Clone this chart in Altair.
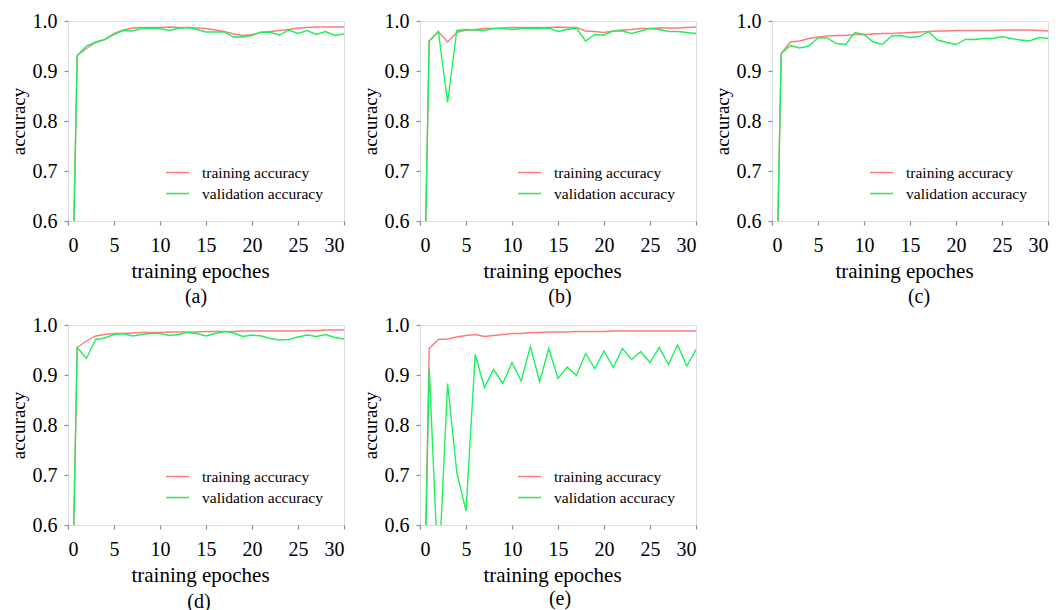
import altair as alt
import pandas as pd

epochs = list(range(31))
series_names = ["training accuracy", "validation accuracy"]
panel_labels = ["(a)", "(b)", "(c)", "(d)", "(e)"]
y_ticks = [0.6, 0.7, 0.8, 0.9, 1.0]
x_ticks = [0, 5, 10, 15, 20, 25, 30]

train_a = [0.0, 0.931, 0.945, 0.957, 0.963, 0.975, 0.982, 0.986, 0.987, 0.987, 0.987,
           0.988, 0.987, 0.987, 0.986, 0.985, 0.982, 0.979, 0.974, 0.971, 0.973,
           0.977, 0.979, 0.981, 0.983, 0.986, 0.987, 0.988, 0.988, 0.988, 0.988]
val_a = [0.0, 0.931, 0.950, 0.958, 0.963, 0.973, 0.981, 0.980, 0.985, 0.985, 0.985,
         0.981, 0.985, 0.987, 0.983, 0.978, 0.978, 0.978, 0.968, 0.968, 0.971,
         0.978, 0.977, 0.972, 0.982, 0.975, 0.981, 0.973, 0.979, 0.971, 0.974]

train_b = [0.0, 0.960, 0.979, 0.958, 0.977, 0.982, 0.983, 0.985, 0.985, 0.986, 0.987,
           0.987, 0.987, 0.987, 0.987, 0.988, 0.987, 0.987, 0.980, 0.979, 0.977,
           0.980, 0.982, 0.983, 0.985, 0.985, 0.986, 0.986, 0.986, 0.987, 0.988]
val_b = [0.0, 0.960, 0.979, 0.837, 0.981, 0.983, 0.982, 0.981, 0.985, 0.985, 0.983,
         0.985, 0.985, 0.985, 0.986, 0.979, 0.983, 0.986, 0.960, 0.973, 0.972,
         0.980, 0.980, 0.975, 0.980, 0.985, 0.983, 0.979, 0.979, 0.977, 0.975]

train_c = [0.0, 0.935, 0.958, 0.960, 0.965, 0.968, 0.970, 0.971, 0.971, 0.973, 0.973,
           0.974, 0.975, 0.975, 0.976, 0.977, 0.978, 0.979, 0.980, 0.980, 0.981,
           0.981, 0.981, 0.981, 0.981, 0.982, 0.982, 0.982, 0.982, 0.981, 0.980]
val_c = [0.0, 0.935, 0.951, 0.946, 0.950, 0.966, 0.966, 0.955, 0.953, 0.977, 0.973,
         0.958, 0.953, 0.970, 0.971, 0.967, 0.969, 0.979, 0.962, 0.957, 0.953,
         0.963, 0.963, 0.965, 0.965, 0.969, 0.965, 0.962, 0.960, 0.967, 0.965]

train_d = [0.0, 0.955, 0.968, 0.978, 0.981, 0.983, 0.983, 0.984, 0.985, 0.985, 0.985,
           0.986, 0.986, 0.986, 0.986, 0.987, 0.987, 0.987, 0.987, 0.988, 0.988,
           0.988, 0.988, 0.988, 0.988, 0.988, 0.989, 0.989, 0.990, 0.990, 0.990]
val_d = [0.0, 0.955, 0.933, 0.971, 0.974, 0.981, 0.983, 0.978, 0.981, 0.983, 0.983,
         0.979, 0.981, 0.985, 0.983, 0.978, 0.983, 0.987, 0.984, 0.977, 0.980,
         0.978, 0.973, 0.970, 0.971, 0.976, 0.980, 0.977, 0.981, 0.975, 0.972]

train_e = [0.0, 0.953, 0.971, 0.972, 0.976, 0.979, 0.981, 0.977, 0.979, 0.981, 0.983,
           0.983, 0.985, 0.985, 0.986, 0.986, 0.986, 0.987, 0.987, 0.987, 0.987,
           0.988, 0.988, 0.988, 0.988, 0.988, 0.988, 0.988, 0.988, 0.988, 0.988]
val_e = [0.0, 0.915, 0.490, 0.883, 0.705, 0.628, 0.941, 0.875, 0.911, 0.883, 0.925,
         0.888, 0.957, 0.887, 0.953, 0.893, 0.916, 0.899, 0.943, 0.913, 0.948,
         0.915, 0.953, 0.931, 0.947, 0.925, 0.955, 0.921, 0.960, 0.918, 0.951]

RED = "#ff7b7b"
GREEN = "#1ef05c"
FONT = "Liberation Serif"
FRAME = "#8a8a8a"

axis_common = dict(labelFont=FONT, titleFont=FONT, labelColor="black",
                   titleColor="black", titleFontWeight="normal", grid=False,
                   domain=False, tickColor=FRAME, tickSize=4, tickWidth=1.2,
                   labelFontSize=20)


def panel(train, val, label, dx, dy):
    df = pd.DataFrame({
        "epoch": epochs + epochs,
        "acc": train + val,
        "series": [series_names[0]] * len(epochs) + [series_names[1]] * len(epochs),
    })
    return alt.Chart(df).mark_line(strokeWidth=1.4, clip=True).encode(
        x=alt.X("epoch:Q",
                scale=alt.Scale(domain=[0, 30], nice=False),
                axis=alt.Axis(values=x_ticks, title="training epoches", titleX=132,
                              titleFontSize=21, labelPadding=10, titlePadding=5,
                              **axis_common)),
        y=alt.Y("acc:Q",
                scale=alt.Scale(domain=[0.6, 1.0], nice=False, zero=False),
                axis=alt.Axis(values=y_ticks, format=".1f", title="accuracy",
                              titleFontSize=19, labelPadding=7, titlePadding=4,
                              **axis_common)),
        color=alt.Color("series:N",
                        scale=alt.Scale(domain=series_names, range=[RED, GREEN]),
                        legend=alt.Legend(orient="none", legendX=97, legendY=139,
                                          title=None, symbolType="stroke",
                                          symbolSize=529, symbolStrokeWidth=1.5,
                                          labelFont=FONT, labelFontSize=15.5,
                                          labelColor="black", labelOffset=12,
                                          rowPadding=-3, padding=0)),
    ).properties(
        width=276, height=200,
        title=alt.TitleParams(label, orient="bottom", frame="group", anchor="middle",
                              dx=dx, dy=dy, font=FONT, fontSize=20,
                              fontWeight="normal", color="black", offset=4),
    )


pa = panel(train_a, val_a, panel_labels[0], -10, 2)
pb = panel(train_b, val_b, panel_labels[1], 2, 2)
pc = panel(train_c, val_c, panel_labels[2], 9, 2)
pd_ = panel(train_d, val_d, panel_labels[3], -7, 3)
pe = panel(train_e, val_e, panel_labels[4], 2, -0.5)

chart = alt.concat(
    pa, pb, pc, pd_, pe, columns=3,
    spacing=alt.RowColnumber(row=104, column=76) if hasattr(alt, "RowColnumber") else 76,
    bounds="flush",
).resolve_scale(color="independent").resolve_legend(color="independent").properties(
    padding={"left": 0, "top": 2, "right": 0, "bottom": 0}
).configure_view(
    stroke=FRAME, strokeWidth=1.2
).configure(background="white")

chart.save("out.html", embed_options={"renderer": "svg", "actions": False})
